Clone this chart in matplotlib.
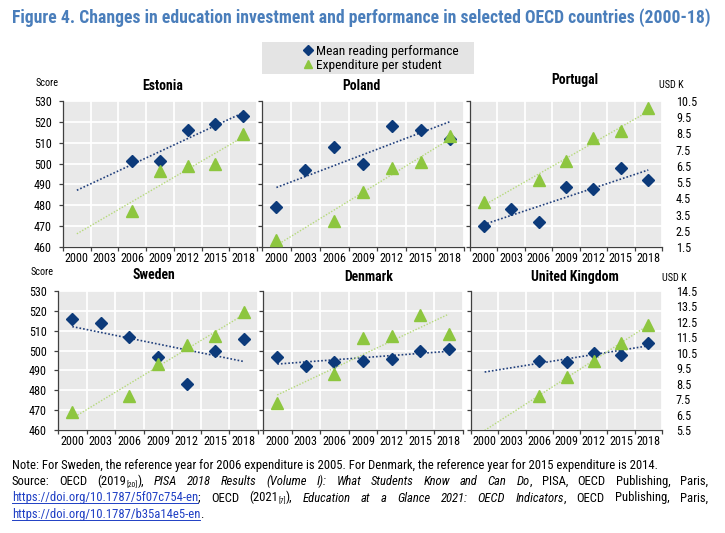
import numpy as np
import matplotlib
matplotlib.use('Agg')
import matplotlib.pyplot as plt
from matplotlib import font_manager
from matplotlib.lines import Line2D
from matplotlib.patches import Rectangle

# ---------------- data ----------------
years = ['2000', '2003', '2006', '2009', '2012', '2015', '2018']
countries = ['Estonia', 'Poland', 'Portugal', 'Sweden', 'Denmark', 'United Kingdom']
nan = np.nan
score_estonia = [nan, nan, 501, 501, 516, 519, 523]
score_poland = [479, 497, 508, 500, 518, 516, 512]
score_portugal = [470, 478, 472, 489, 488, 498, 492]
score_sweden = [516, 514, 507, 497, 483, 500, 506]
score_denmark = [497, 492, 494, 495, 496, 500, 501]
score_uk = [nan, nan, 495, 494, 499, 498, 504]

exp_estonia = [nan, nan, 3.69, 6.19, 6.51, 6.64, 8.44]
exp_poland = [1.96, nan, 3.12, 4.87, 6.35, 6.76, 8.34]
exp_portugal = [4.30, nan, 5.65, 6.83, 8.25, 8.62, 10.05]
exp_sweden = [6.64, nan, 7.72, 9.79, 11.00, 11.60, 13.17]
exp_denmark = [7.27, nan, 9.10, 11.45, 11.58, 12.97, 11.70]
exp_uk = [nan, nan, 7.72, 8.94, 9.97, 11.14, 12.30]

scores = [score_estonia, score_poland, score_portugal, score_sweden, score_denmark, score_uk]
expend = [exp_estonia, exp_poland, exp_portugal, exp_sweden, exp_denmark, exp_uk]

score_ticks = [460, 470, 480, 490, 500, 510, 520, 530]
usd_ticks_top = [1.5, 2.5, 3.5, 4.5, 5.5, 6.5, 7.5, 8.5, 9.5, 10.5]
usd_ticks_bottom = [5.5, 6.5, 7.5, 8.5, 9.5, 10.5, 11.5, 12.5, 13.5, 14.5]

title = 'Figure 4. Changes in education investment and performance in selected OECD countries (2000-18)'
legend_labels = ['Mean reading performance', 'Expenditure per student']

# ---------------- fonts ----------------
names = {f.name for f in font_manager.fontManager.ttflist}
prefs = ['Arial Narrow', 'Liberation Sans Narrow', 'Roboto Condensed', 'Archivo Narrow',
         'PT Sans Narrow', 'Open Sans Condensed', 'Encode Sans Condensed', 'Barlow Semi Condensed']
chosen = [n for n in prefs if n in names][:1]
FONT = chosen + ['Liberation Sans', 'DejaVu Sans']
plt.rcParams['font.family'] = FONT

NAVY = '#0c3a7a'
GREEN = '#8dc63f'
TREND_NAVY = '#203f7c'
TREND_GREEN = '#b5d97a'
BG = '#e9e9e9'
SPINE = '#404040'

W, H = 725, 533
fig = plt.figure(figsize=(W / 100, H / 100), dpi=100)
renderer = fig.canvas.get_renderer()

def fx(x):
    return x / W

def fy(y):
    return 1 - y / H

def wpx(t):
    return t.get_window_extent(renderer=renderer).width

def fit_size(text, target_px, **kw):
    p = fig.text(0, 0, text, fontsize=10, **kw)
    s = 10 * target_px / wpx(p)
    p.remove()
    return s

TS = fit_size('2000', 23.5)                           # tick labels
PT = fit_size('United Kingdom', 88, fontweight='bold')  # panel titles
LS = fit_size(legend_labels[0], 142)                  # legend
US = fit_size('Score', 23)                            # unit labels

rects = [(63, 257, 101, 247), (262, 464, 101, 247), (470, 662, 101, 247),
         (58, 258, 291, 430), (263, 463, 291, 430), (471, 662, 291, 430)]
title_pos = [(163, 86), (361, 86), (575, 80), (154, 275), (369, 277), (575, 277)]

xs = np.arange(len(years))
legend_handles = None
for i, (name, sc, ex) in enumerate(zip(countries, scores, expend)):
    l, r, t, b = rects[i]
    ax = fig.add_axes([fx(l), fy(b), fx(r) - fx(l), (b - t) / H])
    ax.set_facecolor(BG)
    ax.set_xlim(-0.5, len(years) - 0.5)
    ax.set_ylim(score_ticks[0], score_ticks[-1])
    ax.set_yticks(score_ticks)
    ax.set_xticks(xs)
    ax.set_xticklabels(years)
    ax.set_xticks(np.arange(-0.5, len(years), 1.0), minor=True)
    ax.tick_params(axis='x', which='major', length=0, pad=3.5, labelsize=TS, colors='black')
    ax.tick_params(axis='x', which='minor', length=3, width=0.9, color=SPINE, direction='out')
    ax.tick_params(axis='y', which='major', length=3, width=0.9, color=SPINE, direction='out',
                   pad=5, labelsize=TS, labelleft=(i % 3 == 0))
    ax.grid(which='minor', axis='x', color='white', lw=1.3)
    ax.grid(which='major', axis='y', color='white', lw=1.3)
    ax.set_axisbelow(True)
    for s in ['top', 'right']:
        ax.spines[s].set_visible(False)
    for s in ['left', 'bottom']:
        ax.spines[s].set_color(SPINE)
        ax.spines[s].set_linewidth(0.9)

    ax2 = ax.twinx()
    uticks = usd_ticks_top if i < 3 else usd_ticks_bottom
    ax2.set_ylim(uticks[0], uticks[-1])
    ax2.set_yticks(uticks)
    ax2.set_yticklabels([f'{v:.1f}' for v in uticks])
    ax2.tick_params(axis='y', length=0, pad=10, labelsize=TS, labelright=(i % 3 == 2))
    for s in ax2.spines.values():
        s.set_visible(False)

    sc = np.array(sc, dtype=float)
    ex = np.array(ex, dtype=float)
    m1 = ~np.isnan(sc)
    m2 = ~np.isnan(ex)
    p1 = np.polyfit(xs[m1], sc[m1], 1)
    p2 = np.polyfit(xs[m2], ex[m2], 1)
    xe = np.array([0, len(years) - 1])
    ax.plot(xe, np.polyval(p1, xe), color=TREND_NAVY, lw=1.2, ls=(0, (1, 1.2)), zorder=2)
    h1, = ax.plot(xs[m1], sc[m1], ls='none', marker='D', ms=6.6, color=NAVY, mec=NAVY, zorder=3)
    ax2.plot(xe, np.polyval(p2, xe), color=TREND_GREEN, lw=1.0, ls=(0, (1, 1.2)), zorder=2)
    h2, = ax2.plot(xs[m2], ex[m2], ls='none', marker='^', ms=8, color=GREEN, mec=GREEN, zorder=3)
    if legend_handles is None:
        legend_handles = [h1, h2]

    fig.text(fx(title_pos[i][0]), fy(title_pos[i][1]), name, ha='center', va='center',
             fontsize=PT, fontweight='bold')

fig.text(fx(47), fy(83), 'Score', ha='center', va='center', fontsize=US)
fig.text(fx(42), fy(272), 'Score', ha='center', va='center', fontsize=US)
fig.text(fx(671), fy(85), 'USD K', ha='center', va='center', fontsize=US)
fig.text(fx(674), fy(278), 'USD K', ha='center', va='center', fontsize=US)

fig.patches.append(Rectangle((fx(262), fy(74)), fx(474) - fx(262), 32 / H,
                             transform=fig.transFigure, facecolor='#e4e4e4', edgecolor='none', zorder=0))
fig.legend(legend_handles, legend_labels, loc='center', bbox_to_anchor=(fx(381), fy(58.5)),
           frameon=False, fontsize=LS, handlelength=0.6, handletextpad=0.3,
           labelspacing=0.08, borderpad=0, markerscale=0.75)

tt = fig.text(fx(12), fy(18), title, ha='left', va='center', fontsize=11,
              fontweight='bold', color='#4a7ebb')
tt.set_fontsize(11 * 693 / wpx(tt))

LINK = '#1f3fc4'
line1 = [[('Note: For Sweden, the reference year for 2006 expenditure is 2005. For Denmark, the reference year for 2015 expenditure is 2014.', 'n')]]
NFS = fit_size(line1[0][0][0], 640)

line2 = [[('Source:', 'n')], [('OECD', 'n')], [('(2019', 'n'), ('[20]', 'sub'), ('),', 'n')],
         [('PISA', 'i')], [('2018', 'i')], [('Results', 'i')], [('(Volume', 'i')], [('I):', 'i')],
         [('What', 'i')], [('Students', 'i')], [('Know', 'i')], [('and', 'i')], [('Can', 'i')],
         [('Do', 'i'), (',', 'n')], [('PISA,', 'n')], [('OECD', 'n')], [('Publishing,', 'n')], [('Paris,', 'n')]]
line3 = [[('https://doi.org/10.1787/5f07c754-en', 'link'), (';', 'n')], [('OECD', 'n')],
         [('(2021', 'n'), ('[7]', 'sub'), ('),', 'n')], [('Education', 'i')], [('at', 'i')], [('a', 'i')],
         [('Glance', 'i')], [('2021:', 'i')], [('OECD', 'i')], [('Indicators', 'i'), (',', 'n')],
         [('OECD', 'n')], [('Publishing,', 'n')], [('Paris,', 'n')]]
line4 = [[('https://doi.org/10.1787/b35a14e5-en', 'link'), ('.', 'n')]]

sp1 = fig.text(0, 0, 'a a', fontsize=NFS)
sp2 = fig.text(0, 0, 'aa', fontsize=NFS)
SPACE = wpx(sp1) - wpx(sp2)
sp1.remove(); sp2.remove()

def place_line(tokens, base_px, justify, x0=12, x1=708):
    objs = []
    for tok in tokens:
        segs = []
        for text, st in tok:
            kw = dict(fontsize=NFS, va='baseline', ha='left')
            if st == 'i':
                kw['style'] = 'italic'
            if st == 'sub':
                kw['fontsize'] = NFS * 0.6
            if st == 'link':
                kw['color'] = LINK
            segs.append((fig.text(0, fy(base_px), text, **kw), st))
        objs.append(segs)
    widths = [[wpx(t) for t, _ in segs] for segs in objs]
    tokw = [sum(w) for w in widths]
    if justify and len(objs) > 1:
        gap = (x1 - x0 - sum(tokw)) / (len(objs) - 1)
    else:
        gap = SPACE
    x = x0
    for segs, ws in zip(objs, widths):
        for (t, st), w in zip(segs, ws):
            yb = base_px + (2.0 if st == 'sub' else 0)
            t.set_position((fx(x), fy(yb)))
            if st == 'link':
                fig.add_artist(Line2D([fx(x), fx(x + w)], [fy(base_px + 1.6)] * 2,
                                      transform=fig.transFigure, color=LINK, lw=0.7))
            x += w
        x += gap

place_line(line1, 468.5, False)
place_line(line2, 485, True)
place_line(line3, 501.5, True)
place_line(line4, 518, False)

fig.savefig('out.png', dpi=100)
